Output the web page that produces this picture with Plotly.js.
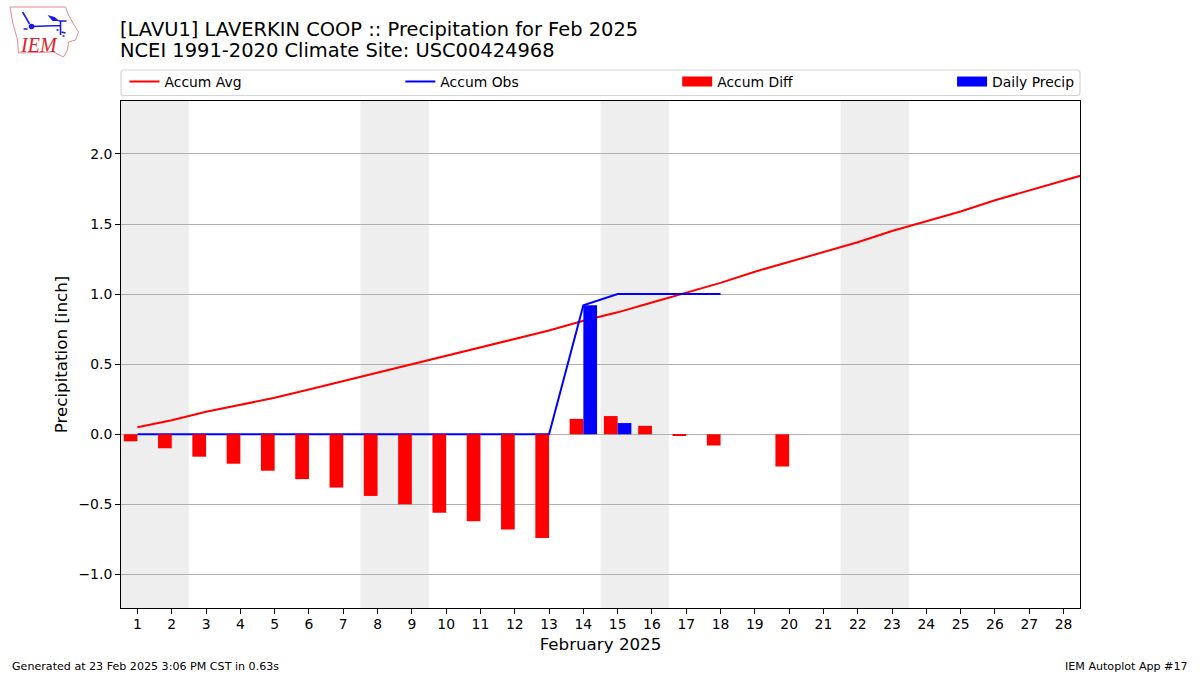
<!DOCTYPE html>
<html><head><meta charset="utf-8">
<script src="https://cdn.plot.ly/plotly-3.0.1.min.js"></script>
<style>html,body{margin:0;padding:0;background:#fff}</style></head>
<body><div id="chart" style="width:1200px;height:675px"></div>
<script>
const days = [1,2,3,4,5,6,7,8,9,10,11,12,13,14,15,16,17,18,19,20,21,22,23,24,25,26,27,28];
const tickDays = days;
const avgDays = days.concat([29]);
const accumAvg = [0.05,0.10,0.16,0.21,0.26,0.32,0.38,0.44,0.50,0.56,0.62,0.68,0.74,0.81,0.87,0.94,1.01,1.08,1.16,1.23,1.30,1.37,1.45,1.52,1.59,1.67,1.74,1.81,1.88];
const obsDays = [1,2,3,4,5,6,7,8,9,10,11,12,13,14,15,16,17,18];
const accumObs = [0,0,0,0,0,0,0,0,0,0,0,0,0,0.92,1.00,1.00,1.00,1.00];
const diffDays = [1,2,3,4,5,6,7,8,9,10,11,12,13,14,15,16,17,18,20];
const accumDiff = [-0.05,-0.10,-0.16,-0.21,-0.26,-0.32,-0.38,-0.44,-0.50,-0.56,-0.62,-0.68,-0.74,0.11,0.13,0.06,-0.01,-0.08,-0.23];
const precipDays = [14,15];
const dailyPrecip = [0.92,0.08];
const weekends = [[0.5,2.5],[7.5,9.5],[14.5,16.5],[21.5,23.5]];
const yTicks = [-1.0,-0.5,0,0.5,1.0,1.5,2.0];
const yTickText = ['−1.0','−0.5','0.0','0.5','1.0','1.5','2.0'];
const xRange = [0.52,28.48];
const yRange = [-1.2396,2.378];
const titleLine1 = '[LAVU1] LAVERKIN COOP :: Precipitation for Feb 2025';
const titleLine2 = 'NCEI 1991-2020 Climate Site: USC00424968';

const FONT = 'DejaVu Sans';
const W=1200,H=675,L=120.5,R=1080,T=101,B=608;
const px = x => (x-L)/(R-L);
const py = y => (B-y)/(B-T);

const logo = `<svg xmlns="http://www.w3.org/2000/svg" width="90" height="60" viewBox="0 0 90 60">
<path d="M9.5,7 L65,7 L68,15 L73,24 L78,32 L75,40 L68,42 L67,50 L63,57 L53,52 L18,53 L17,40 L12,22 Z" fill="none" stroke="#e08a8f" stroke-width="1"/>
<path d="M31,26.5 L60,25.5 M60,21 L60,35 M58,21 L66,21 M22,12 L25,17 L29,24" fill="none" stroke="#1a1ae0" stroke-width="1.6"/>
<circle cx="31" cy="26.5" r="2.8" fill="#1a1ae0"/>
<path d="M47,15 L54,17 L59,21 L52,21 Z" fill="#1a1ae0"/>
<path d="M23,29 L27,29 M56,30 L58,30 M61,32 L65,33 M62,36 L64,36" stroke="#1a1ae0" stroke-width="1.5" fill="none"/>
</svg>`;

const traces = [
 {x:avgDays,y:accumAvg,type:'scatter',mode:'lines',name:'Accum Avg',line:{color:'#ff0000',width:2},legend:'legend'},
 {x:obsDays,y:accumObs,type:'scatter',mode:'lines',name:'Accum Obs',line:{color:'#0000ff',width:2},legend:'legend2'},
 {x:[null],y:[null],type:'scatter',mode:'lines',name:'Accum Diff',line:{color:'#ff0000',width:10},legend:'legend3'},
 {x:[null],y:[null],type:'scatter',mode:'lines',name:'Daily Precip',line:{color:'#0000ff',width:10},legend:'legend4'},
 {x:diffDays,y:accumDiff,type:'bar',yaxis:'y2',name:'Accum Diff',showlegend:false,width:0.4,offset:-0.4,marker:{color:'#ff0000',line:{width:0}}},
 {x:precipDays,y:dailyPrecip,type:'bar',yaxis:'y2',name:'Daily Precip',showlegend:false,width:0.4,offset:0,marker:{color:'#0000ff',line:{width:0}}}
];
const legendAt = textX => ({x:px(textX-40),xanchor:'left',y:py(82),yanchor:'middle',orientation:'h',itemwidth:30,
   bgcolor:'rgba(0,0,0,0)',borderwidth:0,font:{family:FONT,size:13.9,color:'#000'},itemclick:false,itemdoubleclick:false});

const rr=(x0,y0,x1,y1,r)=>{ // rounded legend frame in paper coordinates
 const X=px,Y=py;
 return `M${X(x0+r)},${Y(y0)} L${X(x1-r)},${Y(y0)} Q${X(x1)},${Y(y0)} ${X(x1)},${Y(y0+r)} L${X(x1)},${Y(y1-r)} Q${X(x1)},${Y(y1)} ${X(x1-r)},${Y(y1)} L${X(x0+r)},${Y(y1)} Q${X(x0)},${Y(y1)} ${X(x0)},${Y(y1-r)} L${X(x0)},${Y(y0+r)} Q${X(x0)},${Y(y0)} ${X(x0+r)},${Y(y0)} Z`;
};

const layout = {
 width:W,height:H,paper_bgcolor:'#fff',plot_bgcolor:'#fff',
 margin:{l:L,r:W-R,t:T,b:H-B,pad:0},
 font:{family:FONT,size:13.9,color:'#000'},
 barmode:'overlay',showlegend:true,
 title:{text:titleLine1,x:120/W,xref:'container',xanchor:'left',y:1-29/H,yref:'container',yanchor:'middle',pad:{l:0,r:0,t:0,b:0},font:{family:FONT,size:19.45,color:'#000'}},
 legend:legendAt(164),legend2:legendAt(440),legend3:legendAt(717),legend4:legendAt(992),
 xaxis:{range:xRange,tickmode:'array',tickvals:tickDays,ticktext:tickDays.map(String),showgrid:false,zeroline:false,
   ticks:'outside',ticklen:5,tickwidth:1,tickcolor:'#000',showline:true,linecolor:'#000',linewidth:1,mirror:true,ticklabelstandoff:-2,
   tickfont:{family:FONT,size:13.9},title:{text:'February 2025',font:{family:FONT,size:16.7},standoff:7}},
 yaxis:{range:yRange,tickmode:'array',tickvals:yTicks,ticktext:yTickText,showgrid:true,gridcolor:'#b0b0b0',gridwidth:1,zeroline:false,
   ticks:'outside',ticklen:5,tickwidth:1,tickcolor:'#000',showline:true,linecolor:'#000',linewidth:1,mirror:true,
   tickfont:{family:FONT,size:13.9},title:{text:'Precipitation [inch]',font:{family:FONT,size:16.7},standoff:6}},
 yaxis2:{range:yRange,overlaying:'y',side:'left',visible:false,showgrid:false,zeroline:false},
 shapes:weekends.map(w=>({type:'rect',xref:'x',yref:'paper',x0:w[0],x1:w[1],y0:0,y1:1,fillcolor:'#eeeeee',line:{width:0},layer:'below'}))
   .concat([{type:'path',xref:'paper',yref:'paper',path:rr(120.5,70,1080,95.5,3),line:{color:'#d5d5d5',width:1.2},fillcolor:'rgba(0,0,0,0)',layer:'above'}]),
 images:[{source:'data:image/svg+xml;utf8,'+encodeURIComponent(logo),xref:'paper',yref:'paper',x:px(0),y:py(0),sizex:90/(R-L),sizey:60/(B-T),xanchor:'left',yanchor:'top',sizing:'stretch',layer:'above'}],
 annotations:[
  {text:titleLine2,xref:'paper',yref:'paper',x:px(118.5),y:py(51),xanchor:'left',yanchor:'middle',showarrow:false,borderpad:0,font:{family:FONT,size:19.45,color:'#000'}},
  {text:'<i>IEM</i>',xref:'paper',yref:'paper',x:px(38),y:py(45),xanchor:'center',yanchor:'middle',showarrow:false,font:{family:'Liberation Serif',size:20,color:'#d8232a'}},
  {text:'Generated at 23 Feb 2025 3:06 PM CST in 0.63s',xref:'paper',yref:'paper',x:px(9),y:py(666),xanchor:'left',yanchor:'middle',showarrow:false,font:{family:FONT,size:11.1,color:'#000'}},
  {text:'IEM Autoplot App #17',xref:'paper',yref:'paper',x:px(1190),y:py(666),xanchor:'right',yanchor:'middle',showarrow:false,font:{family:FONT,size:11.1,color:'#000'}}
 ]
};
Plotly.newPlot('chart',traces,layout,{displayModeBar:false,responsive:false});
</script></body></html>
